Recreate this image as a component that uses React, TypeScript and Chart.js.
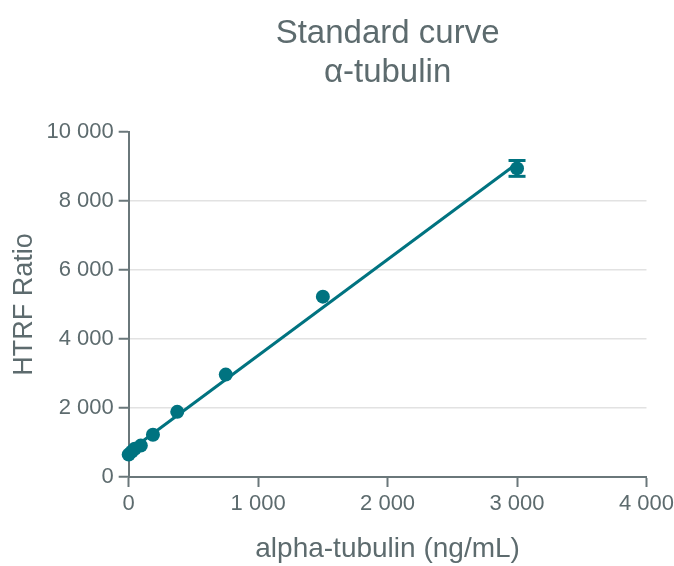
import React, { useEffect, useRef } from "react";
import { Chart, registerables } from "chart.js";

Chart.register(...registerables);

// Standard concentrations (ng/mL) and mean HTRF ratios
const concentrations = [0, 23.4, 46.9, 93.75, 187.5, 375, 750, 1500, 3000];
const htrfRatios = [650, 735, 820, 910, 1225, 1890, 2970, 5230, 8950];

// Error bar on the top standard (mean ± SD)
const errorBarX = [3000, 3000];
const errorBarY = [8720, 9180];

// Linear fit drawn through the standards
const fitX = [0, 3000];
const fitY = [740, 9090];

const xTicks = [0, 1000, 2000, 3000, 4000];
const yTicks = [0, 2000, 4000, 6000, 8000, 10000];

const titleLines = ["Standard curve", "α-tubulin"];
const xTitle = "alpha-tubulin (ng/mL)";
const yTitle = "HTRF Ratio";

const TEAL = "#007380";
const TEXT = "#5d6b6e";
const AXIS = "#6a777a";
const GRID = "#e2e2e2";

const fmt = (v: number) => String(v).replace(/\B(?=(\d{3})+(?!\d))/g, " ");

export default function App() {
  const ref = useRef<HTMLCanvasElement | null>(null);

  useEffect(() => {
    if (!ref.current) return;
    const tickFont = { family: "'Liberation Sans', Arial, sans-serif", size: 22 };
    const titleFont = { family: "'Liberation Sans', Arial, sans-serif", size: 28 };
    const chart = new Chart(ref.current, {
      type: "scatter",
      data: {
        datasets: [
          {
            type: "scatter",
            data: concentrations.map((x, i) => ({ x, y: htrfRatios[i] })),
            backgroundColor: TEAL,
            borderColor: TEAL,
            borderWidth: 0,
            pointRadius: 7,
            clip: false,
            order: 0,
          },
          {
            type: "line",
            data: errorBarX.map((x, i) => ({ x, y: errorBarY[i] })),
            borderColor: TEAL,
            backgroundColor: TEAL,
            borderWidth: 2.5,
            pointStyle: "line",
            pointRadius: 8.5,
            pointBorderWidth: 3,
            pointBorderColor: TEAL,
            fill: false,
            clip: false,
            order: 1,
          },
          {
            type: "line",
            data: fitX.map((x, i) => ({ x, y: fitY[i] })),
            borderColor: TEAL,
            borderWidth: 3,
            pointRadius: 0,
            fill: false,
            clip: false,
            order: 2,
          },
        ],
      },
      options: {
        responsive: false,
        animation: false,
        layout: { padding: { left: 8, right: 0, top: 0, bottom: 0 } },
        plugins: {
          legend: { display: false },
          tooltip: { enabled: false },
          title: {
            display: true,
            fullSize: false,
            text: titleLines,
            color: TEXT,
            font: { family: "'Liberation Sans', Arial, sans-serif", size: 33, weight: "normal" },
            lineHeight: 1.2,
            padding: { top: 14, bottom: 39 },
          },
        },
        scales: {
          x: {
            type: "linear",
            min: 0,
            max: 4000,
            afterBuildTicks: (s: any) => {
              s.ticks = xTicks.map((v) => ({ value: v }));
            },
            afterFit: (s: any) => {
              s.paddingRight = Math.max(0, s.paddingRight - 4);
            },
            ticks: {
              color: TEXT,
              font: tickFont,
              padding: 4,
              callback: (v: any) => fmt(Number(v)),
            },
            grid: {
              drawOnChartArea: false,
              drawTicks: true,
              tickLength: 10,
              tickColor: AXIS,
              tickWidth: 2,
            },
            border: { display: true, color: AXIS, width: 2 },
            title: {
              display: true,
              text: xTitle,
              color: TEXT,
              font: titleFont,
              padding: { top: 11, bottom: 0 },
            },
          },
          y: {
            type: "linear",
            min: 0,
            max: 10000,
            afterBuildTicks: (s: any) => {
              s.ticks = yTicks.map((v) => ({ value: v }));
            },
            ticks: {
              color: TEXT,
              font: tickFont,
              padding: 5,
              callback: (v: any) => fmt(Number(v)),
            },
            grid: {
              drawOnChartArea: true,
              color: (c: any) =>
                c.tick && (c.tick.value === 0 || c.tick.value === 10000) ? "rgba(0,0,0,0)" : GRID,
              lineWidth: 1.5,
              drawTicks: true,
              tickLength: 10,
              tickColor: AXIS,
              tickWidth: 2,
            },
            border: { display: true, color: AXIS, width: 2 },
            title: {
              display: true,
              text: yTitle,
              color: TEXT,
              font: { family: "'Liberation Sans', Arial, sans-serif", size: 27 },
              padding: { top: 0, bottom: 1 },
            },
          },
        },
      },
    } as any);
    return () => chart.destroy();
  }, []);

  return (
    <div style={{ position: "fixed", left: 0, top: 0, width: 674, height: 566, background: "#fff" }}>
      <canvas ref={ref} width={674} height={566} style={{ display: "block" }} />
    </div>
  );
}
